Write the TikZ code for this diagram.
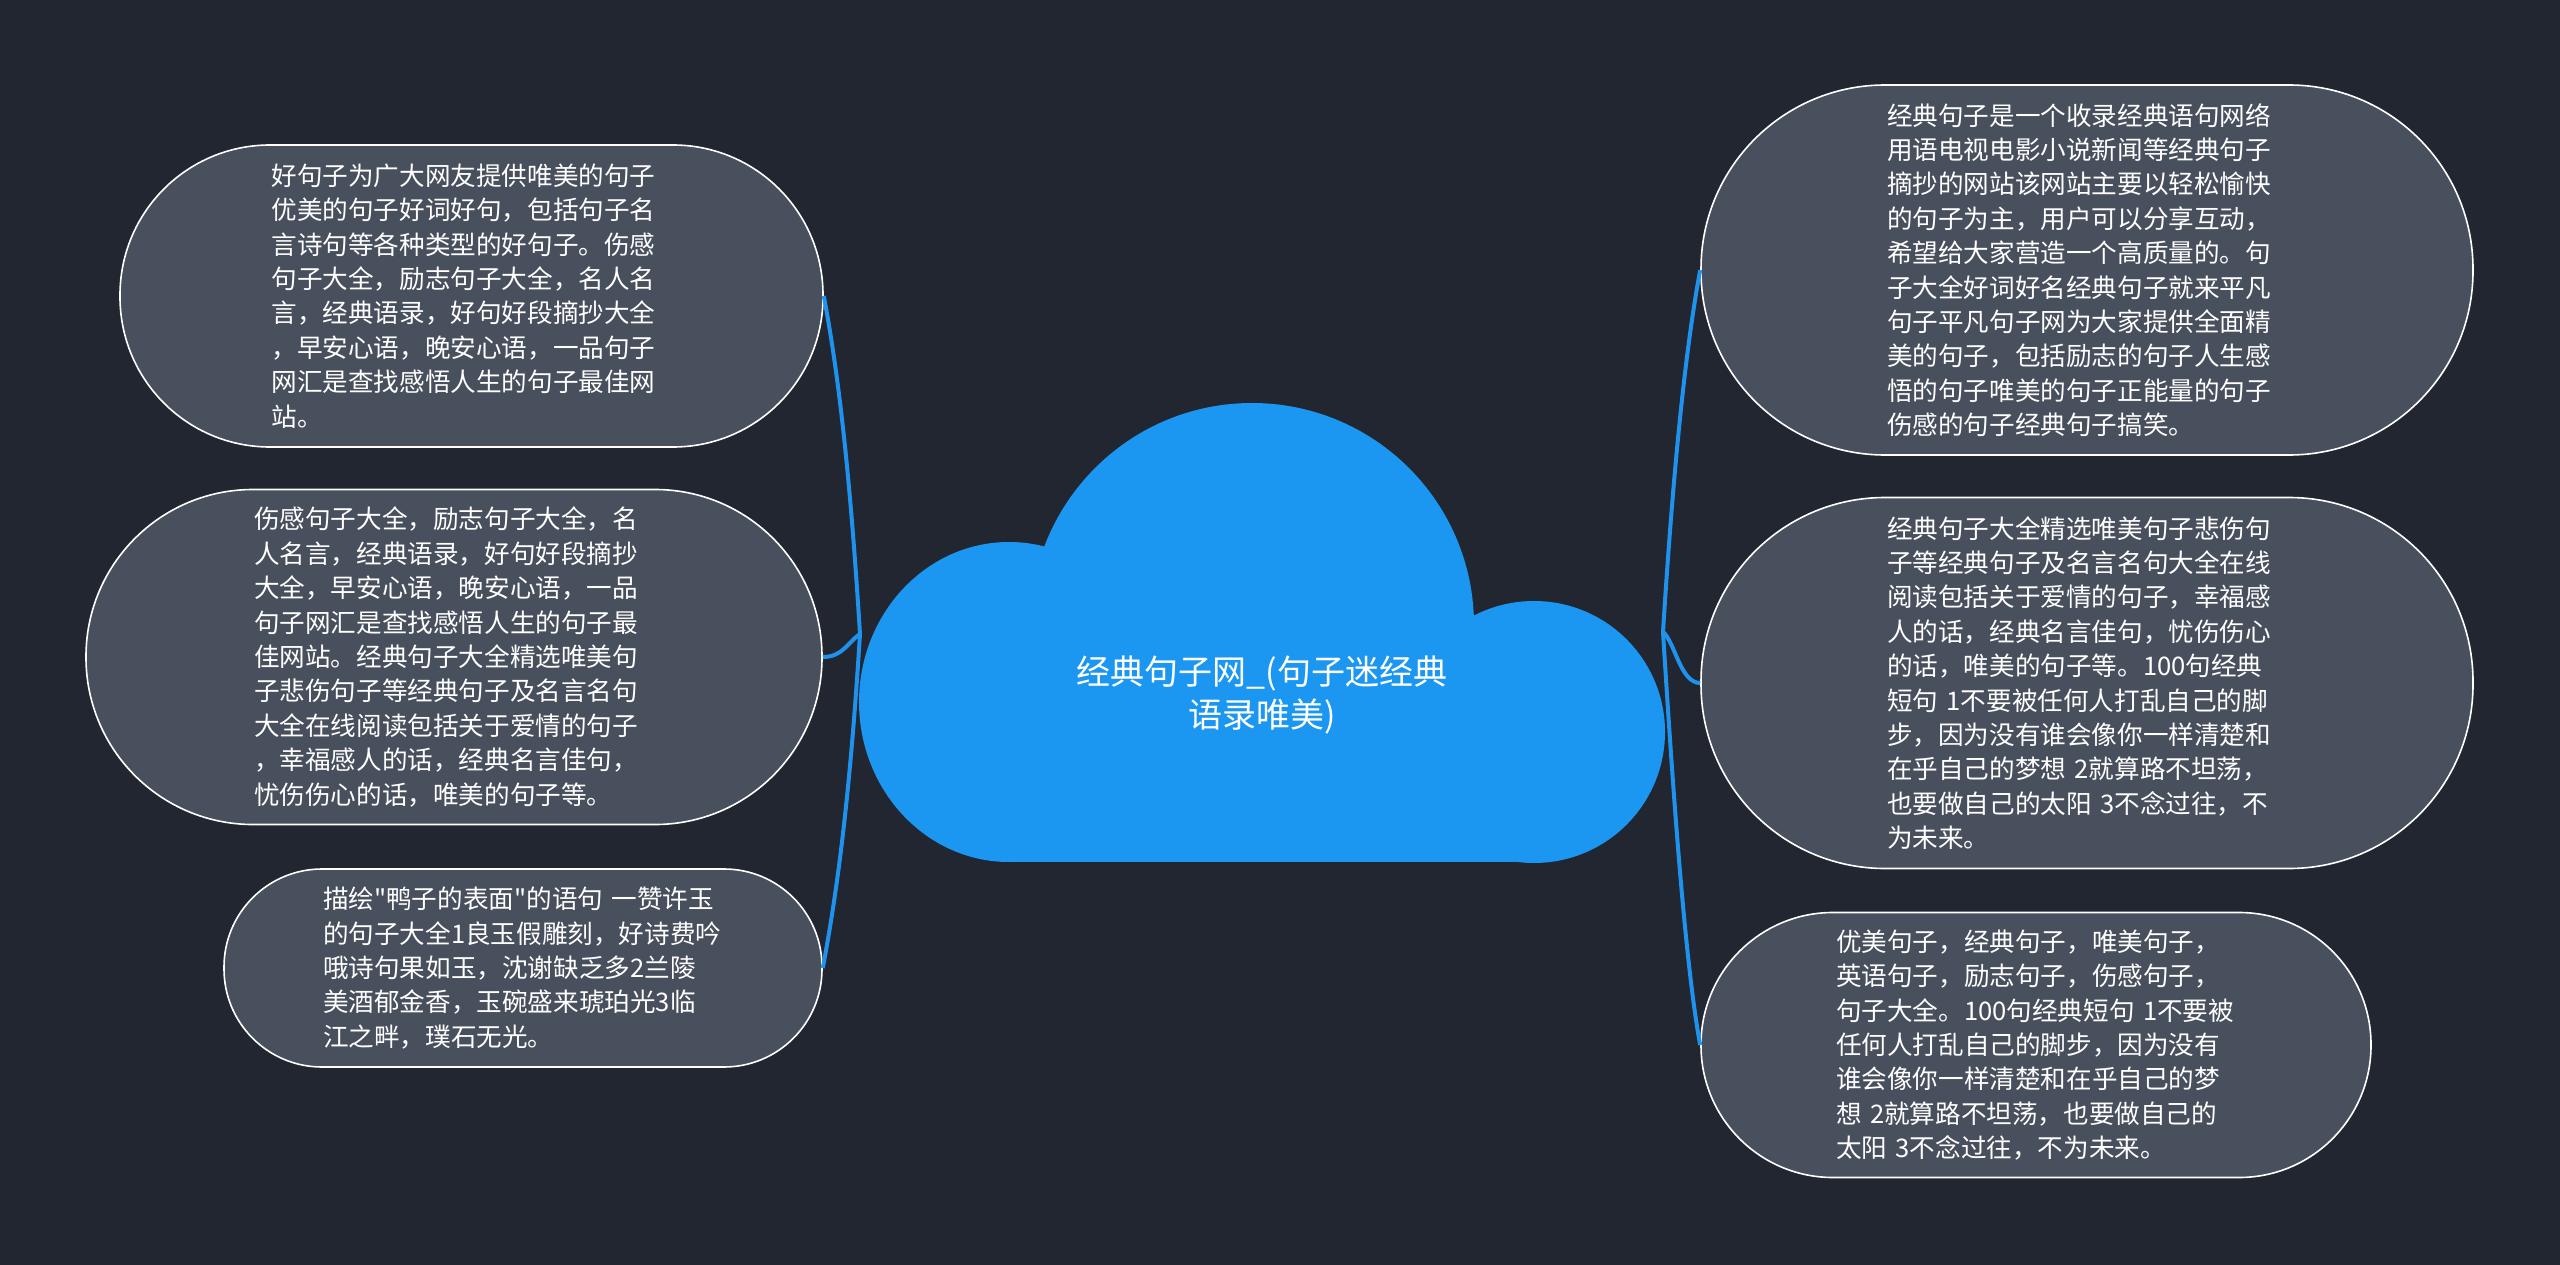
\documentclass[tikz,border=0pt]{standalone}
\usepackage{fontspec}
\newfontfamily\cjkfont{Noto Sans CJK SC}
\definecolor{bgc}{HTML}{222631}
\definecolor{pillc}{HTML}{484F5D}
\definecolor{cloudc}{HTML}{1B96F1}
\definecolor{connc}{HTML}{1E92EC}
\begin{document}
\begin{tikzpicture}[x=1pt,y=-1pt,
  pill/.style={draw=white, line width=1.6pt, fill=pillc, text=white, inner sep=0pt,
    align=left, text width=400pt, font=\cjkfont\fontsize{25.6pt}{34.4pt}\selectfont},
  conn/.style={draw=connc, line width=4pt},
  cloudpart/.style={fill=cloudc}]
\fill[bgc] (0,0) rectangle (2560,1265);
\useasboundingbox (0,0) rectangle (2560,1265);
% cloud
\fill[cloudpart] (1252,625) circle[radius=222];
\fill[cloudpart] (1009,702) ellipse[x radius=150, y radius=160];
\fill[cloudpart] (1534,732) circle[radius=131];
\fill[cloudpart] (1009,702) rectangle (1534,862);
\node[text=white, align=center, font=\cjkfont\fontsize{34pt}{43pt}\selectfont] (title) at (1262,695)
  {经典句子网\_(句子迷经典\\语录唯美)};
\coordinate (JL) at (860,634);
\coordinate (JR) at (1663,632);
% left nodes
\node[pill, minimum width=703pt, minimum height=302pt, rounded corners=150pt] (l1) at (471.5,296) {%
好句子为广大网友提供唯美的句子\\
优美的句子好词好句，包括句子名\\
言诗句等各种类型的好句子。伤感\\
句子大全，励志句子大全，名人名\\
言，经典语录，好句好段摘抄大全\\
，早安心语，晚安心语，一品句子\\
网汇是查找感悟人生的句子最佳网\\
站。};
\node[pill, minimum width=736pt, minimum height=335pt, rounded corners=167pt] (l2) at (454,657) {%
伤感句子大全，励志句子大全，名\\
人名言，经典语录，好句好段摘抄\\
大全，早安心语，晚安心语，一品\\
句子网汇是查找感悟人生的句子最\\
佳网站。经典句子大全精选唯美句\\
子悲伤句子等经典句子及名言名句\\
大全在线阅读包括关于爱情的句子\\
，幸福感人的话，经典名言佳句，\\
忧伤伤心的话，唯美的句子等。};
\node[pill, minimum width=598pt, minimum height=198pt, rounded corners=98pt] (l3) at (523,968) {%
描绘"鸭子的表面"的语句~一赞许玉\\
的句子大全1良玉假雕刻，好诗费吟\\
哦诗句果如玉，沈谢缺乏多2兰陵\\
美酒郁金香，玉碗盛来琥珀光3临\\
江之畔，璞石无光。};
% right nodes
\node[pill, minimum width=772pt, minimum height=370pt, rounded corners=184pt] (r1) at (2087,270) {%
经典句子是一个收录经典语句网络\\
用语电视电影小说新闻等经典句子\\
摘抄的网站该网站主要以轻松愉快\\
的句子为主，用户可以分享互动，\\
希望给大家营造一个高质量的。句\\
子大全好词好名经典句子就来平凡\\
句子平凡句子网为大家提供全面精\\
美的句子，包括励志的句子人生感\\
悟的句子唯美的句子正能量的句子\\
伤感的句子经典句子搞笑。};
\node[pill, minimum width=772pt, minimum height=371pt, rounded corners=184pt] (r2) at (2087,683) {%
经典句子大全精选唯美句子悲伤句\\
子等经典句子及名言名句大全在线\\
阅读包括关于爱情的句子，幸福感\\
人的话，经典名言佳句，忧伤伤心\\
的话，唯美的句子等。100句经典\\
短句~1不要被任何人打乱自己的脚\\
步，因为没有谁会像你一样清楚和\\
在乎自己的梦想~2就算路不坦荡，\\
也要做自己的太阳~3不念过往，不\\
为未来。};
\node[pill, minimum width=670pt, minimum height=265pt, rounded corners=132pt] (r3) at (2036,1045) {%
优美句子，经典句子，唯美句子，\\
英语句子，励志句子，伤感句子，\\
句子大全。100句经典短句~1不要被\\
任何人打乱自己的脚步，因为没有\\
谁会像你一样清楚和在乎自己的梦\\
想~2就算路不坦荡，也要做自己的\\
太阳~3不念过往，不为未来。};
% connectors
\draw[conn] (l1.east) .. controls +(15,80) and +(-10,-160) .. (JL);
\draw[conn] (l2.east) .. controls +(20,0) and +(-12,8) .. (JL);
\draw[conn] (l3.east) .. controls +(15,-80) and +(-10,160) .. (JL);
\draw[conn] (JR) .. controls +(10,-160) and +(-15,80) .. (r1.west);
\draw[conn] (JR) .. controls +(12,10) and +(-20,0) .. (r2.west);
\draw[conn] (JR) .. controls +(10,160) and +(-15,-80) .. (r3.west);
\end{tikzpicture}
\end{document}
